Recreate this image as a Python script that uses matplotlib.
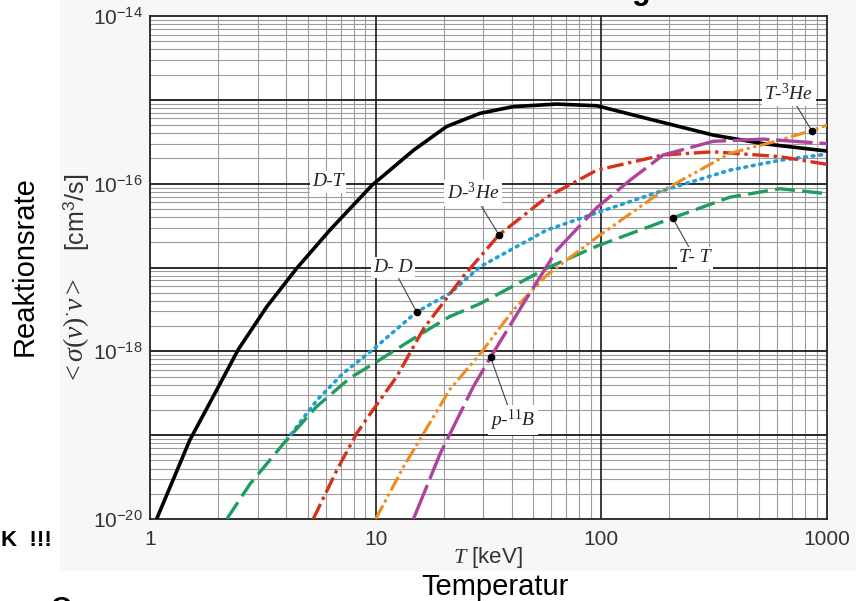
import numpy as np
import matplotlib
matplotlib.use("Agg")
import matplotlib.pyplot as plt
from matplotlib.ticker import LogLocator, FuncFormatter, NullFormatter
from matplotlib.patches import Rectangle

plt.rcParams['font.family'] = ['Liberation Sans', 'DejaVu Sans']
plt.rcParams['mathtext.fontset'] = 'custom'
plt.rcParams['mathtext.rm'] = 'Liberation Serif'
plt.rcParams['mathtext.it'] = 'Liberation Serif:italic'

# values (T in keV, rate in cm^3/s)
T_dt = [1.07, 1.50, 1.98, 2.46, 3.29, 4.47, 6.27, 9.6, 14.7, 20.6, 29, 40.7, 63.4,
        95.6, 159, 313, 522, 1000]
R_dt = [1.0e-20, 8.7e-20, 3.5e-19, 1.05e-18, 3.4e-18, 9.8e-18, 2.8e-17, 9.5e-17,
        2.5e-16, 4.8e-16, 6.9e-16, 8.3e-16, 8.9e-16, 8.5e-16, 6.0e-16, 3.8e-16,
        3.0e-16, 2.45e-16]

T_dd = [4.03, 5.48, 7.19, 9.6, 15.2, 21.3, 29, 57.3, 95.6, 188, 371, 618, 1000]
R_dd = [8.7e-20, 2.6e-19, 5.5e-19, 1.02e-18, 2.95e-18, 4.9e-18, 1.02e-17, 2.8e-17,
        4.5e-17, 8.3e-17, 1.45e-16, 1.9e-16, 2.25e-16]

T_tt = [2.19, 2.77, 3.90, 5.48, 7.69, 9.6, 15.2, 21.3, 29, 57.3, 95.6, 207, 371,
        618, 1000]
R_tt = [1.0e-20, 2.6e-20, 7.9e-20, 2.2e-19, 4.8e-19, 6.9e-19, 1.5e-18, 2.6e-18,
        3.7e-18, 9.8e-18, 1.8e-17, 3.9e-17, 6.9e-17, 8.7e-17, 7.6e-17]

T_dhe = [5.29, 6.72, 8.24, 9.6, 12.4, 16.3, 24.4, 35.2, 57.3, 95.6, 188, 313, 618, 1000]
R_dhe = [1.0e-20, 3.8e-20, 1.05e-19, 1.9e-19, 5.0e-19, 1.86e-18, 7.8e-18, 2.45e-17,
         6.9e-17, 1.45e-16, 2.2e-16, 2.4e-16, 2.1e-16, 1.7e-16]

T_the = [10, 13.3, 21.3, 29, 40.7, 57.3, 95.6, 188, 371, 618, 855, 1000]
R_the = [1.0e-20, 4.2e-20, 3.5e-19, 9.3e-19, 3.1e-18, 8.1e-18, 2.3e-17, 8.3e-17,
         2.3e-16, 3.3e-16, 4.3e-16, 5.0e-16]

T_pb = [14.7, 19.3, 27.1, 32.3, 45.1, 63.4, 95.6, 134, 188, 313, 522, 1000]
R_pb = [1.0e-20, 6.0e-20, 3.8e-19, 8.5e-19, 3.7e-18, 1.6e-17, 5.2e-17, 1.1e-16,
        2.2e-16, 3.2e-16, 3.4e-16, 3.0e-16]

fig = plt.figure(figsize=(8.56, 6.01), dpi=100)
fig.patch.set_facecolor('white')
fig.patches.append(Rectangle((60 / 856, 1 - 570 / 601), 1, 570 / 601,
                             transform=fig.transFigure, color='#f7f7f7', zorder=-5))
ax = fig.add_axes([150 / 856, 1 - 519 / 601, 677 / 856, 503 / 601])
ax.set_facecolor('white')
ax.set_xscale('log')
ax.set_yscale('log')
ax.set_xlim(1, 1000)
ax.set_ylim(1e-20, 1e-14)
ax.set_axisbelow(True)

# grid: thin minor lines, dark decade lines on top of them
ax.xaxis.set_major_locator(LogLocator(base=10, numticks=10))
ax.xaxis.set_minor_locator(LogLocator(base=10, subs=np.arange(2, 10), numticks=20))
ax.yaxis.set_major_locator(LogLocator(base=10, numticks=20))
ax.yaxis.set_minor_locator(LogLocator(base=10, subs=np.arange(2, 10), numticks=40))
ax.xaxis.set_major_formatter(FuncFormatter(lambda v, p: f'{v:g}'))


def even_exp(v, p):
    e = int(round(np.log10(v)))
    return f'$\\mathdefault{{10^{{{e}}}}}$' if e % 2 == 0 else ''


ax.yaxis.set_major_formatter(FuncFormatter(even_exp))
ax.xaxis.set_minor_formatter(NullFormatter())
ax.yaxis.set_minor_formatter(NullFormatter())
ax.grid(which='minor', color='#9c9c9c', lw=0.8)
for e in range(-19, -14):
    ax.axhline(10.0 ** e, color='#1a1a1a', lw=1.3, zorder=1.5)
for e in range(1, 3):
    ax.axvline(10.0 ** e, color='#1a1a1a', lw=1.2, zorder=1.5)
ax.tick_params(which='both', length=0, labelsize=15, colors='#333333')
ax.tick_params(axis='x', pad=8)
ax.tick_params(axis='y', pad=5)
for s in ax.spines.values():
    s.set_linewidth(1.3)
    s.set_color('#222222')

# curves
ax.plot(T_dt, R_dt, color='black', lw=2.6, solid_capstyle='round', zorder=3)
ax.plot(T_dd, R_dd, color='#1e9fd6', lw=2.6, dashes=(0.5, 1.6), dash_capstyle='round', zorder=3)
ax.plot(T_tt, R_tt, color='#1e9e5e', lw=2.4, dashes=(6, 2.2), zorder=3)
ax.plot(T_dhe, R_dhe, color='#d8301c', lw=2.4, dashes=(5, 1.4, 1, 1.4), zorder=3)
ax.plot(T_the, R_the, color='#f08c1c', lw=2.2, dashes=(5, 1.2, 1, 1.2, 1, 1.2), zorder=3)
ax.plot(T_pb, R_pb, color='#b0429e', lw=2.4, dashes=(11, 2), zorder=3)

lab = dict(fontsize=14, family='Liberation Serif', style='italic', color='#222222',
           ha='center', va='center', zorder=6,
           bbox=dict(boxstyle='square,pad=0.12', fc='white', ec='none'))
arr = dict(arrowstyle='-', color='#444444', lw=0.8, shrinkA=0, shrinkB=0)

ax.text(6.15, 1.05e-16, 'D-T', **lab)
ax.annotate('D- D', xy=(T_dd[4], R_dd[4]), xytext=(11.9, 1.0e-17), arrowprops=arr, **lab)
ax.annotate('D-$^{3}$He', xy=(T_dhe[7], R_dhe[7]), xytext=(27, 7.8e-17), arrowprops=arr, **lab)
ax.annotate('T-$^{3}$He', xy=(T_the[10], R_the[10]), xytext=(678, 1.2e-15), arrowprops=arr, **lab)
ax.annotate('T- T', xy=(T_tt[11], R_tt[11]), xytext=(260, 1.3e-17), arrowprops=arr, **lab)
ax.annotate('p-$^{11}$B', xy=(T_pb[3], R_pb[3]), xytext=(40.6, 1.5e-19), arrowprops=arr, **lab)
for tx, ry in [(T_dd[4], R_dd[4]), (T_dhe[7], R_dhe[7]), (T_the[10], R_the[10]),
               (T_tt[11], R_tt[11]), (T_pb[3], R_pb[3])]:
    ax.plot(tx, ry, 'o', color='black', ms=4.5, zorder=7)

# axis texts
fig.text(25 / 856, 1 - 266 / 601, 'Reaktionsrate', rotation=90, fontsize=21,
         ha='center', va='center')
fig.text(76 / 856, 1 - 212 / 601, '[cm$^{\\mathdefault{3}}$/s]', rotation=90, fontsize=18,
         ha='center', va='center', color='#333333')
fig.text(76 / 856, 1 - 331 / 601, '$<\\sigma(\\mathit{v})^{\\cdot}\\mathit{v}>$', rotation=90,
         fontsize=20, ha='center', va='center', color='#333333')
fig.text(488 / 856, 1 - 557 / 601, '$T$ [keV]', fontsize=16, ha='center', va='center',
         color='#333333')
fig.text(495 / 856, 1 - 587 / 601, 'Temperatur', fontsize=21, ha='center', va='center')
fig.text(52 / 856, 1 - 540 / 601, 'K  !!!', fontsize=16, fontweight='bold',
         ha='right', va='center')
fig.text(641 / 856, 1 + 1.5 / 601, 'g', fontsize=22, fontweight='bold',
         ha='center', va='baseline')
fig.text(62 / 856, 1 - 596 / 601, 'O', fontsize=20, fontweight='bold',
         ha='center', va='top')

fig.savefig('out.png', dpi=100)
